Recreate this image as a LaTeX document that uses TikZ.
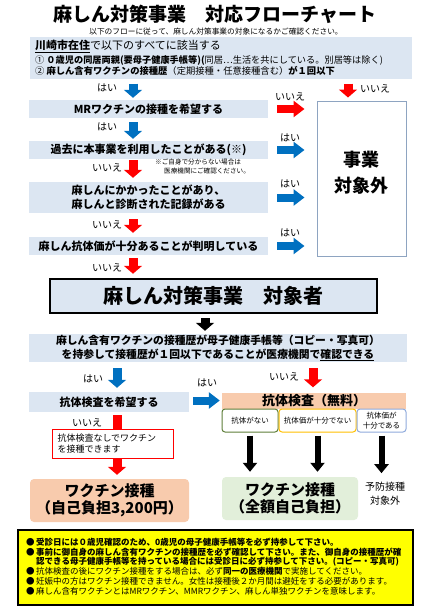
\documentclass[tikz,border=0pt]{standalone}
\usepackage{fontspec}
\setmainfont{Noto Sans CJK JP}
\usetikzlibrary{arrows.meta}
\definecolor{boxblue}{HTML}{DCE6F2}
\definecolor{arrblue}{HTML}{0070C0}
\definecolor{arrred}{HTML}{FF0000}
\definecolor{peach}{HTML}{F8CBAD}
\definecolor{lgreen}{HTML}{E2EFDA}
\definecolor{noteyellow}{HTML}{FFFF00}
\definecolor{outborder}{HTML}{8EA4C1}
\definecolor{okgreen}{HTML}{5E7F3A}
\definecolor{okyellow}{HTML}{FFC000}
\definecolor{okblue}{HTML}{8FAADC}
\newcommand\fsz[2]{\fontsize{#1}{#2}\selectfont}
\begin{document}
\begin{tikzpicture}[x=1pt,y=-1pt,
  lbl/.style={inner sep=0pt, font=\fsz{10}{12}},
  bluebox/.style={fill=boxblue, draw=none, inner sep=0pt},
  qbox/.style={fill=boxblue, draw=none, inner sep=0pt, align=center, font=\fsz{11}{14}\bfseries},
  arrB/.style={color=arrblue, line width=9pt, -{Triangle[width=18pt,length=8pt]}},
  arrR/.style={color=arrred, line width=9pt, -{Triangle[width=18pt,length=8pt]}},
  arrK/.style={color=black, line width=9pt, -{Triangle[width=18pt,length=8pt]}},
  harrB/.style={color=arrblue, line width=8pt, -{Triangle[width=16pt,length=11pt]}},
  harrR/.style={color=arrred, line width=8pt, -{Triangle[width=16pt,length=11pt]}},
  karr/.style={color=black, line width=6pt, -{Triangle[width=14pt,length=9pt]}},
  smallbox/.style={fill=white, line width=1pt, rounded corners=3pt, inner sep=0pt, align=center, font=\fsz{7.5}{10}, minimum height=23pt}
]
\useasboundingbox (0,0) rectangle (431,610);
\fill[white] (0,0) rectangle (431,610);

% column coordinates
\coordinate (colA) at (133,0);
\coordinate (colB) at (348,0);
\coordinate (colC) at (205,0);
\coordinate (colD) at (117,0);
\coordinate (colE) at (313,0);

% title
\node[inner sep=0pt, font=\fsz{19}{22}\bfseries] (title) at (215,14) {麻しん対策事業　対応フローチャート};
\node[lbl, font=\fsz{7.7}{9}] (sub) at (216,32) {以下のフローに従って、麻しん対策事業の対象になるかご確認ください。};

% condition box
\node[bluebox, minimum width=382pt, minimum height=41pt] (cond) at (221,58) {};
\node[lbl, anchor=west, font=\fsz{11}{13}] (c1) at (35,46) {\underline{\textbf{川崎市在住}}で以下のすべてに該当する};
\node[lbl, anchor=west, font=\fsz{9.2}{11}] (c2) at (35,60) {① \textbf{０歳児の同居両親(要母子健康手帳等)(}同居…生活を共にしている。別居等は除く)};
\node[lbl, anchor=west, font=\fsz{9.3}{11}] (c3) at (35,70.5) {② \textbf{麻しん含有ワクチンの接種歴}（定期接種・任意接種含む）\textbf{が１回以下}};

% question boxes
\node[qbox, minimum width=239pt, minimum height=18pt] (q1) at (148.5,109) {MRワクチンの接種を希望する};
\node[qbox, minimum width=239pt, minimum height=18pt] (q2) at (148.5,150) {過去に本事業を利用したことがある(※)};
\node[qbox, minimum width=239pt, minimum height=31pt] (q3) at (148.5,197.5) {麻しんにかかったことがあり、\\麻しんと診断された記録がある};
\node[qbox, minimum width=239pt, minimum height=18pt] (q4) at (148.5,246) {麻しん抗体価が十分あることが判明している};

\node[lbl, anchor=west, align=left, font=\fsz{6.6}{8.5}] (note) at (155,166.5) {※ご自身で分からない場合は\\\hspace{9pt}医療機関にご確認ください。};

% out-of-scope box
\node[draw=outborder, line width=1pt, fill=white, inner sep=0pt, minimum width=89pt, minimum height=155pt] (out) at (361.5,178.5) {};
\node[inner sep=0pt, align=center, font=\fsz{18}{26}\bfseries] (outtxt) at (361.5,173) {事業\\対象外};

% left column arrows
\draw[arrB, shorten <=5pt, shorten >=2pt] (cond.south -| colA) -- (q1.north -| colA);
\node[lbl] (l1) at (107,88) {はい};
\draw[arrB, shorten <=4pt, shorten >=2pt] (q1.south -| colA) -- (q2.north -| colA);
\node[lbl] (l2) at (107,127) {はい};
\draw[arrR, shorten <=1pt, shorten >=4pt] (q2.south -| colA) -- (q3.north -| colA);
\node[lbl] (l3) at (107,168) {いいえ};
\draw[arrR, shorten <=6pt, shorten >=4pt] (q3.south -| colA) -- (q4.north -| colA);
\node[lbl] (l4) at (107,225) {いいえ};

% right arrows
\draw[arrR, shorten <=5pt, shorten >=3pt] (cond.south -| colB) -- (out.north -| colB);
\node[lbl] (r0) at (375,89) {いいえ};
\draw[harrR, shorten <=9pt, shorten >=12pt] (q1.east) -- (q1.east -| out.west);
\node[lbl] (r1) at (290,97) {いいえ};
\draw[harrB, shorten <=9pt, shorten >=12pt] (q2.east) -- (q2.east -| out.west);
\node[lbl] (r2) at (290,138) {はい};
\draw[harrB, shorten <=9pt, shorten >=12pt] (q3.east) -- (q3.east -| out.west);
\node[lbl] (r3) at (290,184) {はい};
\draw[harrB, shorten <=9pt, shorten >=12pt] (q4.east) -- (q4.east -| out.west);
\node[lbl] (r4) at (290,233) {はい};

% target box
\node[draw=black, line width=2.5pt, fill=boxblue, inner sep=0pt, minimum width=327pt, minimum height=34pt, font=\fsz{20}{22}\bfseries] (tgt) at (213.5,296) {麻しん対策事業　対象者};
\draw[arrR, shorten <=3pt, shorten >=4pt] (q4.south -| colA) -- (tgt.north -| colA);
\node[lbl] (l5) at (107,268) {いいえ};

% confirmation box
\node[qbox, minimum width=378pt, minimum height=28pt, font=\fsz{10.8}{14}\bfseries] (conf) at (218,348) {麻しん含有ワクチンの接種歴が母子健康手帳等（コピー・写真可）\\を持参して接種歴が１回以下であることが医療機関で\underline{確認できる}};
\draw[arrK, shorten <=4pt, shorten >=3pt] (tgt.south -| colC) -- (conf.north -| colC);

% antibody test branch
\node[qbox, minimum width=160pt, minimum height=20pt] (want) at (109,402) {抗体検査を希望する};
\node[fill=peach, inner sep=0pt, minimum width=184pt, minimum height=16pt, font=\fsz{13}{15}\bfseries] (test) at (314,400.5) {抗体検査（無料）};
\draw[arrB, shorten <=6pt, shorten >=4pt] (conf.south -| colD) -- (want.north -| colD);
\node[lbl] (l6) at (93,379) {はい};
\draw[arrR, shorten <=6pt, shorten >=5pt] (conf.south -| colE) -- (test.north -| colE);
\node[lbl] (l7) at (284,377) {いいえ};
\draw[harrB, shorten <=4pt, shorten >=2pt] (want.east |- test) -- (test.west);
\node[lbl] (l8) at (207,383) {はい};

% result small boxes
\node[smallbox, draw=okgreen, minimum width=56pt] (ra) at (250,420.5) {抗体がない};
\node[smallbox, draw=okyellow, minimum width=77pt] (rb) at (317.5,420.5) {抗体価が十分でない};
\node[smallbox, draw=okblue, minimum width=49pt] (rc) at (381.5,420.5) {抗体価が\\十分である};

% vaccination boxes
\node[fill=peach, rounded corners=4pt, inner sep=0pt, minimum width=159pt, minimum height=43pt, align=center, font=\fsz{15}{17}\bfseries] (vac1) at (109.5,500.5) {ワクチン接種\\（自己負担3,200円）};
\node[fill=lgreen, rounded corners=4pt, inner sep=0pt, minimum width=136pt, minimum height=43pt, align=center, font=\fsz{15}{17}\bfseries] (vac2) at (290,498.5) {ワクチン接種\\（全額自己負担）};
\node[inner sep=0pt, align=center, font=\fsz{10}{14}] (ext) at (385,494) {予防接種\\対象外};

% no-test path
\draw[arrR, shorten <=3pt, shorten >=4pt] (want.south -| colD) -- (vac1.north -| colD);
\node[lbl] (l9) at (87,423) {いいえ};
\node[draw=arrred, line width=0.8pt, fill=white, inner sep=0pt, inner xsep=5.5pt, text width=110pt, minimum height=29pt, align=left, font=\fsz{9}{10.5}] (nov) at (112.5,443.5) {抗体検査なしでワクチン\\を接種できます};

% black arrows to results
\draw[karr, shorten <=3pt, shorten >=5pt] (ra.south) -- (ra.south |- vac2.north);
\draw[karr, shorten <=3pt, shorten >=5pt] (rb.south) -- (rb.south |- vac2.north);
\draw[karr, shorten <=3pt, shorten >=9pt] (rc.south) -- (rc.south |- ext.north);

% notes
\node[draw=black, line width=2pt, fill=noteyellow, inner sep=0pt, minimum width=395pt, minimum height=75pt] (notes) at (215.5,567.5) {};
\node[inner sep=0pt, anchor=west, align=left, font=\fsz{8.5}{9.8}] (notetxt) at (26,566.5) {%
●\hspace{1.5pt}\textbf{受診日には０歳児確認のため、0歳児の母子健康手帳等を必ず持参して下さい。}\\
●\hspace{1.5pt}\textbf{事前に御自身の麻しん含有ワクチンの接種歴を必ず確認して下さい。また、御自身の接種歴が確}\\
\hspace{10pt}\textbf{認できる母子健康手帳等を持っている場合には受診日に必ず持参して下さい。(コピー・写真可)}\\
●\hspace{1.5pt}抗体検査の後にワクチン接種をする場合は、必ず\textbf{同一の医療機関}で実施してください。\\
●\hspace{1.5pt}妊娠中の方はワクチン接種できません。女性は接種後２か月間は避妊をする必要があります。\\
●\hspace{1.5pt}麻しん含有ワクチンとはMRワクチン、MMRワクチン、麻しん単独ワクチンを意味します。};
\end{tikzpicture}
\end{document}
